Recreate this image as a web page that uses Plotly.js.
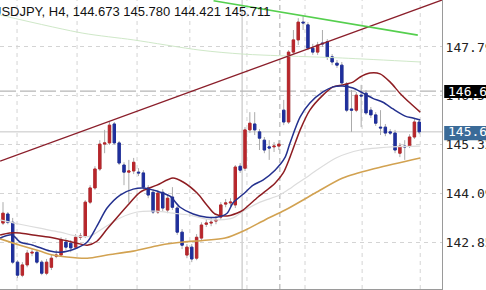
<!DOCTYPE html>
<html><head><meta charset="utf-8">
<script src="https://cdn.plot.ly/plotly-3.0.1.min.js"></script>
<style>html,body{margin:0;padding:0;background:#fff;overflow:hidden}#chart{width:486px;height:290px}</style>
</head><body><div id="chart"></div>
<script>
const headerText = "USDJPY, H4, 144.673 145.780 144.421 145.711";

const openP = [143.33,143.56,143.35,142.34,142.01,142.27,142.57,142.59,142.34,142.06,
  142.21,142.49,142.52,142.85,142.82,142.72,142.97,143.00,143.86,144.22,
  144.70,145.33,145.36,145.84,145.36,144.80,144.62,144.65,144.62,144.60,
  144.22,144.11,143.61,144.11,143.66,143.99,143.71,143.10,142.52,142.72,
  142.44,142.95,143.30,143.33,143.38,143.48,143.81,143.84,143.79,144.77,
  144.72,145.69,145.84,145.64,145.43,145.26,145.26,145.28,146.19,145.89,
  147.66,147.97,148.42,148.35,147.76,147.66,147.89,147.92,147.54,147.38,
  147.33,146.85,146.22,146.19,146.57,146.62,146.19,146.07,145.76,145.76,
  145.64,145.61,145.10,145.28,145.28,145.51,145.89];
const highP = [143.86,143.61,143.46,142.39,142.34,142.65,142.67,142.65,142.39,142.42,
  142.52,142.65,142.97,142.95,142.90,143.05,143.08,143.91,144.29,144.77,
  145.43,145.69,145.89,145.89,145.41,144.87,144.93,144.98,144.72,144.67,
  144.29,144.19,144.17,144.19,144.04,144.24,143.76,143.18,142.80,142.80,
  143.05,143.35,143.43,143.46,143.51,143.86,143.94,143.96,144.80,144.85,
  145.76,146.14,146.14,145.71,145.51,145.43,145.38,145.43,146.45,147.71,
  148.22,148.52,148.57,148.42,147.87,147.92,148.22,147.99,147.61,147.46,
  147.41,146.90,146.70,146.65,146.83,146.70,146.27,146.14,146.19,145.84,
  145.71,145.69,145.36,145.43,145.58,145.99,145.97];
const lowP = [143.28,143.30,142.29,141.94,141.96,142.21,142.49,142.29,142.01,142.01,
  142.14,142.44,142.47,142.65,142.59,142.67,142.90,142.95,143.81,144.17,
  144.65,145.10,145.31,145.31,144.80,144.29,143.84,144.57,144.52,144.17,
  143.96,143.56,143.56,143.63,143.58,143.66,143.03,142.67,142.44,142.34,
  142.39,142.90,143.23,143.25,143.30,143.41,143.73,143.76,143.71,144.60,
  144.65,145.61,145.56,145.18,145.10,144.93,145.13,145.18,145.81,145.84,
  147.61,147.84,148.22,147.71,147.59,147.59,147.79,147.46,147.33,147.26,
  146.80,146.14,145.64,146.14,145.76,146.07,145.99,145.79,145.56,145.53,
  145.56,145.10,145.00,144.93,145.23,145.46,145.58];
const closeP = [143.58,143.35,142.34,142.01,142.27,142.57,142.59,142.34,142.06,142.34,
  142.44,142.52,142.90,142.72,142.70,142.97,143.00,143.86,144.22,144.70,
  145.33,145.36,145.81,145.36,144.85,144.62,144.65,144.87,144.60,144.24,
  144.04,143.61,144.09,143.71,143.96,143.73,143.10,142.77,142.72,142.42,
  142.97,143.28,143.33,143.35,143.41,143.79,143.84,143.86,144.75,144.67,
  145.69,145.86,145.69,145.48,145.18,145.23,145.28,145.33,145.89,147.66,
  147.97,148.42,148.40,147.76,147.66,147.84,147.87,147.54,147.41,147.33,
  146.88,146.19,146.19,146.57,146.55,146.12,146.07,145.86,145.74,145.61,
  145.61,145.18,145.28,145.26,145.51,145.89,145.64];

// moving averages (bar index, price)
const maFastX = [-0.6,1.9,3.5,6.2,9.7,11.8,15.3,17.4,19.4,21.5,24.2,26.9,28.9,31.8,34.5,36.6,39.3,42.1,44.2,46.3,
  47.5,49.6,51.7,53.7,56.2,58.3,59.3,61.4,63.4,66.1,68.2,70.2,72.3,74.4,76.4,78.5,80.6,83.1,84.7,86.2];
const maFastY = [142.95,143.03,142.85,142.77,142.62,142.59,142.70,142.85,143.25,143.71,144.04,144.19,144.22,144.14,144.01,143.73,143.56,143.48,143.48,143.58,
  143.84,144.06,144.29,144.42,144.67,145.00,145.36,146.02,146.37,146.65,146.78,146.80,146.75,146.62,146.49,146.39,146.22,146.04,145.99,145.94];
const maSlowX = [-0.6,1.4,3.5,6.2,9.7,13.2,15.3,17.4,19.4,21.5,23.6,26.2,28.3,31.8,35.1,37.2,40.1,42.1,43.8,46.3,
  48.3,49.6,52.7,56.2,57.9,59.3,61.4,63.4,66.1,68.2,70.2,72.3,73.8,75.8,77.9,80.0,82.0,84.1,86.2];
const maSlowY = [143.03,143.08,143.08,143.03,142.97,142.88,142.82,142.77,142.87,143.18,143.48,143.84,144.11,144.29,144.47,144.37,144.09,143.79,143.56,143.51,
  143.58,143.66,143.99,144.34,144.60,145.00,145.69,146.19,146.57,146.78,146.83,146.90,147.03,147.13,147.11,146.90,146.62,146.37,146.14];
const maGrayX = [-0.6,3.5,7.6,11.8,15.3,18.0,20.7,24.2,27.7,31.8,35.1,38.6,42.1,44.8,47.5,49.6,53.1,57.2,59.7,63.4,68.8,73.8,80.6,86.2];
const maGrayY = [143.41,143.30,143.20,143.10,143.00,143.00,143.20,143.46,143.61,143.63,143.58,143.53,143.43,143.41,143.46,143.63,143.86,144.04,144.24,144.55,144.98,145.18,145.26,145.28];
const maTanX = [-0.6,3.5,7.6,10.3,13.2,17.4,21.5,26.9,32.4,37.2,41.3,45.9,50.0,54.1,58.3,64.5,70.2,77.1,86.2];
const maTanY = [142.93,142.77,142.62,142.52,142.47,142.44,142.52,142.62,142.77,142.85,142.89,142.95,143.15,143.41,143.66,144.09,144.47,144.72,144.98];
const maGreenX = [-0.6,16.5,26.9,40.7,49.6,70.2,86.2];
const maGreenY = [148.60,148.14,147.97,147.71,147.61,147.51,147.41];

// drawn trend lines (bar index, price)
const trendUpX = [-0.6, 90.7];
const trendUpY = [144.90, 148.98];
const trendDownX = [43.5, 85.7];
const trendDownY = [148.96, 148.09];

// price scale
const tickVals = [142.85, 144.09, 145.32, 146.56, 147.79];
const tickText = ["142.85", "144.09", "145.32", "146.56", "147.79"];
const crossPrice = 146.67, crossLabel = "146.67";
const lastPrice = 145.64, lastLabel = "145.64";
const crossBar = 49.4;
const gridBars = [2.9, 15.3, 27.7, 38.6, 50.4, 62.4, 74.2, 86.2];
const separatorBar = 57.2;

const UP = '#b8262b', DN = '#1f2f9c', WICK = '#ababab';
const idx = openP.map((_, i) => i);
const bodyHigh = openP.map((o, i) => Math.max(o, closeP[i]));
const bodyLow = openP.map((o, i) => Math.min(o, closeP[i]));

const line = (x, y, color, width, dash) => ({type:'scatter', mode:'lines', x, y,
  line:{color, width, shape:'spline', smoothing:0.8, dash: dash || 'solid'}, hoverinfo:'skip', showlegend:false});

const traces = [
  {type:'candlestick', x: idx, open: openP, high: highP, low: lowP, close: closeP,
   increasing:{line:{color:WICK, width:1}, fillcolor:'rgba(0,0,0,0)'},
   decreasing:{line:{color:WICK, width:1}, fillcolor:'rgba(0,0,0,0)'},
   hoverinfo:'skip', showlegend:false},
  {type:'candlestick', x: idx, open: openP, high: bodyHigh, low: bodyLow, close: closeP,
   increasing:{line:{color:UP, width:1}, fillcolor:UP},
   decreasing:{line:{color:DN, width:1}, fillcolor:DN},
   hoverinfo:'skip', showlegend:false},
  line(maGreenX, maGreenY, '#cfe8c8', 1),
  line(maGrayX, maGrayY, '#dcdcdc', 1.2),
  line(maTanX, maTanY, '#d2a251', 1.6),
  line(maSlowX, maSlowY, '#8e1d22', 1.5),
  line(maFastX, maFastY, '#24318f', 1.5),
  {type:'scatter', mode:'lines', x: trendUpX, y: trendUpY, line:{color:'#8b1f2b', width:1.3}, hoverinfo:'skip', showlegend:false},
  {type:'scatter', mode:'lines', x: trendDownX, y: trendDownY, line:{color:'#55cf4e', width:1.6}, hoverinfo:'skip', showlegend:false}
];

const shapes = [];
gridBars.forEach(b => shapes.push({type:'line', xref:'x', yref:'paper', x0:b, x1:b, y0:0, y1:1,
  line:{color:'#d4d4d4', width:1, dash:'4px,4px'}, layer:'below'}));
shapes.push({type:'line', xref:'x', yref:'paper', x0:separatorBar, x1:separatorBar, y0:0, y1:1,
  line:{color:'#a8a8a8', width:1, dash:'5px,4px'}, layer:'below'});
shapes.push({type:'line', xref:'x', yref:'paper', x0:crossBar, x1:crossBar, y0:0, y1:1,
  line:{color:'#bdbdbd', width:1}, layer:'below'});
shapes.push({type:'line', xref:'paper', yref:'y', x0:0, x1:1, y0:crossPrice, y1:crossPrice,
  line:{color:'#b5b5b5', width:1.2, dash:'16px,4px'}, layer:'below'});
shapes.push({type:'line', xref:'paper', yref:'y', x0:0, x1:1, y0:lastPrice, y1:lastPrice,
  line:{color:'#c4c4c4', width:1}, layer:'below'});
// price label boxes
shapes.push({type:'rect', xref:'paper', yref:'y', x0:1.005, x1:1.2, y0:crossPrice-0.17, y1:crossPrice+0.16,
  fillcolor:'#000', line:{width:0}, layer:'above'});
shapes.push({type:'rect', xref:'paper', yref:'y', x0:1.005, x1:1.2, y0:lastPrice-0.21, y1:lastPrice+0.15,
  fillcolor:'#3b6b98', line:{width:0}, layer:'above'});

const mono = "DejaVu Sans Mono, monospace";
const annotations = [
  {xref:'paper', yref:'paper', x:0, y:1, xanchor:'left', yanchor:'top', xshift:-10, yshift:-2,
   text: headerText, showarrow:false, font:{family:'Liberation Sans, Arial, sans-serif', size:13, color:'#111'}},
  {xref:'paper', yref:'y', x:1.01, y:crossPrice, xanchor:'left', yanchor:'middle', text:crossLabel,
   showarrow:false, font:{family:mono, size:13, color:'#fff'}},
  {xref:'paper', yref:'y', x:1.01, y:lastPrice, xanchor:'left', yanchor:'middle', text:lastLabel,
   showarrow:false, font:{family:mono, size:13, color:'#fff'}}
];

const layout = {
  width:486, height:290,
  margin:{l:0, r:44, t:0, b:1, pad:0},
  paper_bgcolor:'#fff', plot_bgcolor:'#fff',
  showlegend:false,
  xaxis:{range:[-0.62, 90.7], showgrid:false, zeroline:false, showticklabels:false,
    rangeslider:{visible:false}, showline:true, linecolor:'#9a9a9a', linewidth:1, mirror:true, fixedrange:true},
  yaxis:{range:[141.66, 148.98], side:'right', tickvals:tickVals, ticktext:tickText,
    showgrid:true, gridcolor:'#d4d4d4', griddash:'4px,4px', gridwidth:1, zeroline:false,
    showline:true, linecolor:'#9a9a9a', linewidth:1, ticks:'',
    tickfont:{family:mono, size:13, color:'#222'}, fixedrange:true},
  shapes, annotations
};

Plotly.newPlot('chart', traces, layout, {staticPlot:true, displayModeBar:false});
</script>
</body></html>
